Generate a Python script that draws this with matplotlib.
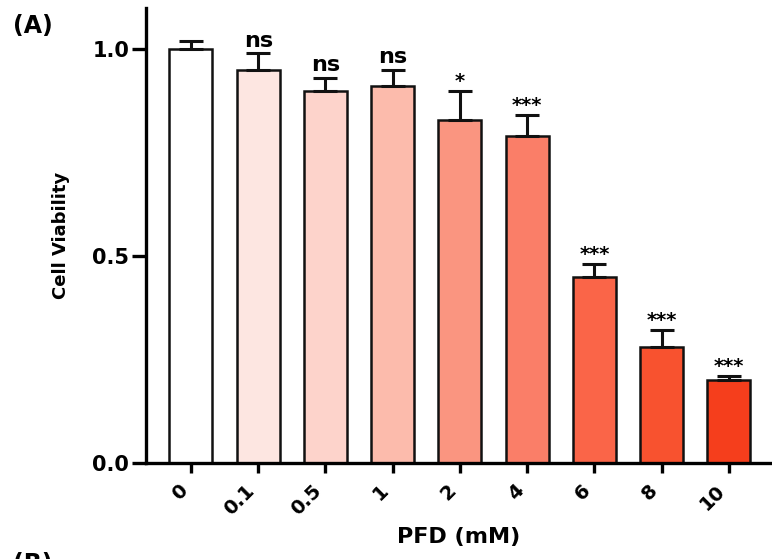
import matplotlib
matplotlib.use('Agg')
import matplotlib.pyplot as plt
import numpy as np

# PFD concentrations and measured viability
doses = ['0', '0.1', '0.5', '1', '2', '4', '6', '8', '10']
viability = [1.00, 0.95, 0.90, 0.91, 0.83, 0.79, 0.45, 0.28, 0.20]
sd = [0.02, 0.04, 0.03, 0.04, 0.07, 0.05, 0.03, 0.04, 0.01]
signif = ['', 'ns', 'ns', 'ns', '*', '***', '***', '***', '***']
colors = ['#FFFFFF', '#FDE6E1', '#FDD3CB', '#FCBBAC', '#FA9580',
          '#FA7E68', '#FA6548', '#F8522F', '#F53E1C']

plt.rcParams['font.family'] = 'DejaVu Sans'
plt.rcParams['font.weight'] = 'bold'

fig = plt.figure(figsize=(7.72, 5.59), dpi=100)
ax = fig.add_axes([0.189, 0.172, 0.811, 0.814])

x = np.arange(len(doses))
ax.bar(x, viability, width=0.64, color=colors, edgecolor='#111111',
       linewidth=1.8, zorder=2)
ax.errorbar(x, viability, yerr=[np.zeros(len(sd)), sd], fmt='none',
            ecolor='#111111', elinewidth=2.2, capsize=8.5, capthick=2.2, zorder=3)

# significance labels above the error caps
for xi, v, e, s in zip(x, viability, sd, signif):
    if not s:
        continue
    size = 16 if s == 'ns' else 14
    ax.annotate(s, (xi, v + e), xytext=(0, 2 if s == 'ns' else 0),
                textcoords='offset points', ha='center', va='bottom',
                fontsize=size, fontweight='bold')

ax.set_xlim(-0.67, 8.64)
ax.set_ylim(0, 1.1)
ax.set_yticks([0.0, 0.5, 1.0])
ax.set_yticklabels(['0.0', '0.5', '1.0'], fontsize=15, fontweight='bold')
ax.set_xticks(x)
ax.set_xticklabels(doses, rotation=45, ha='right', fontsize=14, fontweight='bold')

for side in ['top', 'right']:
    ax.spines[side].set_visible(False)
for side in ['left', 'bottom']:
    ax.spines[side].set_linewidth(2.4)
ax.tick_params(axis='y', length=10, width=2.4, pad=2)
ax.tick_params(axis='x', length=7, width=2.4, pad=6)

ax.set_xlabel('PFD (mM)', fontsize=16, fontweight='bold', labelpad=6)
ax.set_ylabel('Cell Viability', fontsize=13, fontweight='bold', labelpad=16)

fig.text(0.017, 0.975, '(A)', fontsize=17, fontweight='bold', va='top')
fig.text(0.017, 0.012, '(B)', fontsize=17, fontweight='bold', va='top')

fig.savefig('out.png', dpi=100)
